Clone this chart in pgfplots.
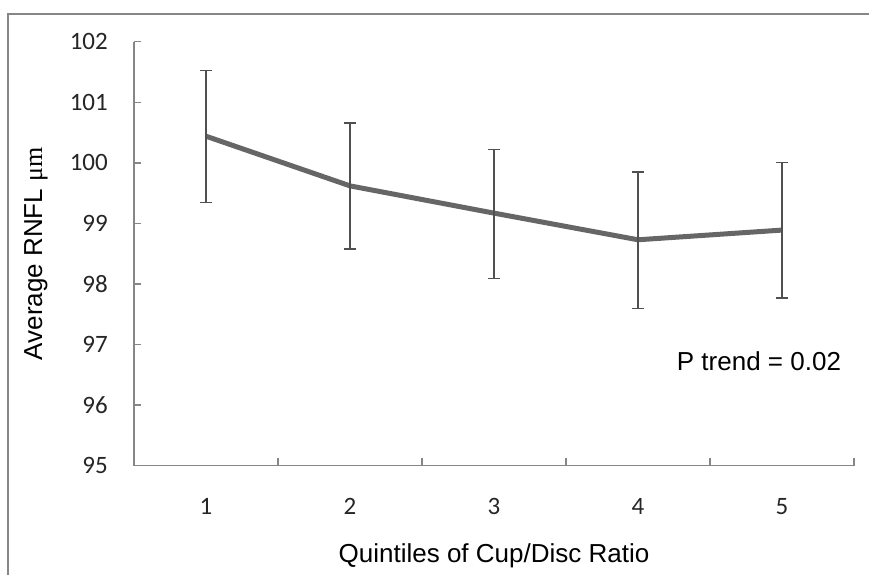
\documentclass[border=0pt]{standalone}
\usepackage{fontspec}
\setmainfont{Liberation Sans}
\newfontfamily\calibri{Carlito}
\newfontfamily\timesf{Liberation Serif}
\usepackage{pgfplots}
\pgfplotsset{compat=1.18}
\usepackage{pgfplotstable}
\definecolor{axgray}{HTML}{868686}
\definecolor{linegray}{HTML}{666666}
\definecolor{errgray}{HTML}{505050}
\pgfplotstableread{
x y ep em
1 100.44 1.09 1.10
2 99.62 1.04 1.04
3 99.17 1.05 1.08
4 98.73 1.12 1.14
5 98.89 1.12 1.12
}\datatable
\begin{document}
\begin{tikzpicture}[x=1pt,y=1pt]
\path[use as bounding box] (0,0) rectangle (869,-574);
\clip (0,0) rectangle (869,-574);
\draw[color=axgray, line width=2pt] (7.5,-13.5) rectangle (900,-600);
\begin{axis}[
  scale only axis,
  width=720pt, height=424pt,
  at={(134pt,-465.7pt)}, anchor=south west,
  xmin=0.5, xmax=5.5, ymin=95, ymax=102,
  axis x line*=bottom, axis y line*=left,
  axis line style={color=axgray, line width=1.3pt, -},
  xtick={1,2,3,4,5},
  minor xtick={1.5,2.5,3.5,4.5,5.5},
  ytick={95,96,...,102},
  tick align=inside,
  major tick length=7pt,
  minor tick length=8pt,
  tick style={color=axgray, line width=1.3pt},
  major x tick style={draw=none},
  minor x tick style={color=axgray, line width=1.3pt},
  /pgf/number format/assume math mode=true,
  ticklabel style={font=\calibri\fontsize{25}{30}\selectfont, text=black!85},
  yticklabel style={anchor=east, inner sep=0pt, xshift=-26pt},
  xticklabel style={anchor=center, inner sep=0pt, yshift=-41pt},
  xlabel={Quintiles of Cup/Disc Ratio},
  ylabel={Average RNFL {\timesf μm}},
  label style={font=\fontsize{26}{30}\selectfont},
  x label style={at={(axis description cs:0.5,-0.213)}, anchor=center},
  y label style={at={(axis description cs:-0.1361,0.5)}, anchor=center},
  clip=false,
]
\addplot[color=linegray, line width=5pt, line join=round, mark=none,
  error bars/.cd, y dir=both, y explicit,
  error bar style={color=errgray, line width=1.3pt, line cap=butt},
  error mark options={rotate=90, mark size=6pt, color=errgray, line width=1.3pt}]
  table[x=x, y=y, y error plus=ep, y error minus=em] {\datatable};
\node[font=\fontsize{26}{30}\selectfont, anchor=center] at (axis cs:4.84,96.73) {P trend = 0.02};
\end{axis}
\end{tikzpicture}
\end{document}
